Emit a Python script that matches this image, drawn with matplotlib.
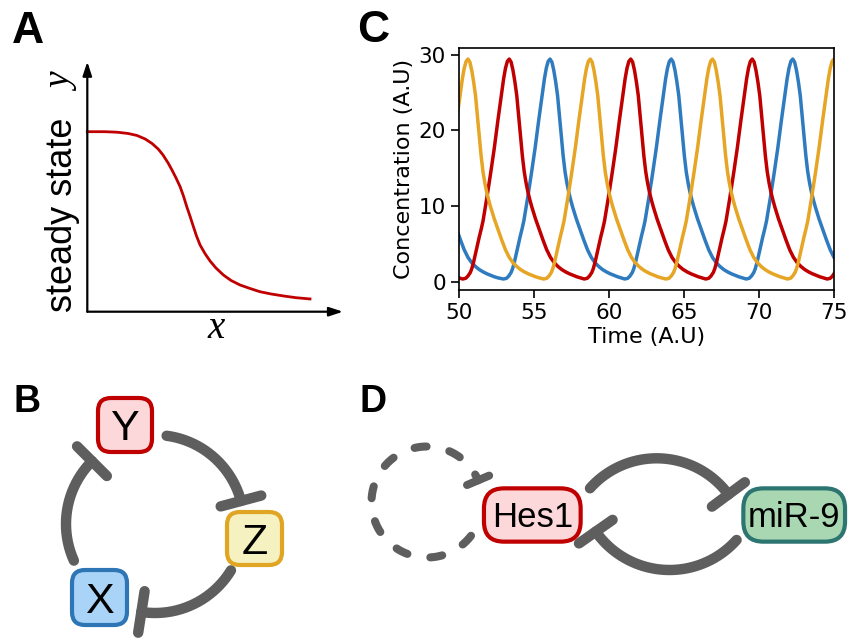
import numpy as np
import matplotlib
matplotlib.use("Agg")
import matplotlib.pyplot as plt
from matplotlib.patches import FancyBboxPatch

W, H = 851, 639
GRAY = "#5e5e5e"
RED = "#c00000"
BLUE = "#2f7bbf"
YELLOW = "#e6a524"

# panel A: steady-state response (axis units)
A_X = [0.0, 0.69, 1.16, 1.59, 1.94, 2.26, 2.53, 2.77, 2.96, 3.16, 3.31, 3.47, 3.63,
       3.76, 3.89, 4.02, 4.15, 4.27, 4.41, 4.60, 4.80, 5.03, 5.32, 5.62, 5.97, 6.36,
       6.75, 7.18, 7.67, 8.16, 8.71]
A_Y = [0.720, 0.720, 0.718, 0.713, 0.705, 0.691, 0.673, 0.651, 0.627, 0.595, 0.567,
       0.535, 0.500, 0.463, 0.420, 0.381, 0.340, 0.303, 0.267, 0.233, 0.203, 0.175,
       0.147, 0.125, 0.107, 0.093, 0.080, 0.071, 0.063, 0.056, 0.051]

# panel C: one oscillation cycle (time relative to the peak) and the peak times
CYCLE_T = [-3.1, -2.9, -2.75, -2.6, -2.5, -2.375, -2.25, -2.125, -2.0, -1.875, -1.75,
           -1.5, -1.25, -1.0, -0.75, -0.5, -0.375, -0.25, -0.125, 0.0, 0.125, 0.25,
           0.375, 0.5, 0.625, 0.75, 0.875, 1.0, 1.125, 1.25, 1.375, 1.5, 1.75, 2.0,
           2.25, 2.5, 2.75, 3.0, 3.25, 3.5, 3.75, 4.0, 4.25, 4.5, 4.75, 5.03]
CYCLE_V = [0.35, 0.45, 0.75, 1.2, 1.7, 2.6, 3.7, 4.8, 5.9, 6.9, 8.0,
           11.0, 14.2, 17.6, 21.4, 25.0, 26.8, 28.2, 29.1, 29.4, 29.0, 27.9,
           26.4, 24.6, 21.9, 19.2, 16.6, 14.5, 13.0, 11.8, 10.8, 9.9, 8.3, 6.9,
           5.5, 4.2, 3.2, 2.5, 2.0, 1.6, 1.3, 1.05, 0.85, 0.65, 0.5, 0.35]
PEAKS_BLUE = [47.85, 56.07, 64.15, 72.25]
PEAKS_RED = [45.25, 53.35, 61.45, 69.55, 77.65]
PEAKS_YELLOW = [50.6, 58.75, 66.9, 75.0]
C_XTICKS = [50, 55, 60, 65, 70, 75]
C_YTICKS = [0, 10, 20, 30]


def series(peaks):
    t, v = [], []
    for p in peaks:
        t += [p + c for c in CYCLE_T[:-1]]
        v += CYCLE_V[:-1]
    return t, v


def arc(ax, cx, cy, r, a0, a1, lw=7.5, bar=None, **kw):
    a = np.radians(np.linspace(a0, a1, 160))
    ax.plot(cx + r * np.cos(a), cy - r * np.sin(a), color=GRAY, lw=lw,
            solid_capstyle="round", dash_capstyle="round", **kw)
    if bar is not None:
        e = np.radians(a1)
        bx, by = cx + r * np.cos(e), cy - r * np.sin(e)
        dx, dy = np.cos(e), -np.sin(e)
        ax.plot([bx - bar * dx, bx + bar * dx], [by - bar * dy, by + bar * dy],
                color=GRAY, lw=lw, solid_capstyle="round")


def node(ax, cx, cy, w, h, text, fc, ec, size, rad=13):
    ax.add_patch(FancyBboxPatch((cx - w / 2, cy - h / 2), w, h,
                                boxstyle=f"round,pad=0,rounding_size={rad}",
                                fc=fc, ec=ec, lw=3, zorder=3))
    em = size / 0.72
    ax.text(cx, cy + 0.358 * em, text, ha="center", va="baseline", fontsize=size,
            family="Liberation Sans", zorder=4)


fig = plt.figure(figsize=(W / 100, H / 100), dpi=100)

# overlay in pixel coordinates for labels and diagrams
ov = fig.add_axes([0, 0, 1, 1])
ov.set_xlim(0, W)
ov.set_ylim(H, 0)
ov.axis("off")

# ---- panel A
axa = fig.add_axes([87.3 / W, 1 - 311.7 / H, 255.7 / W, 250 / H])
axa.set_xlim(0, 10)
axa.set_ylim(0, 1)
axa.axis("off")
arrow = dict(arrowstyle="-|>,head_length=0.55,head_width=0.18", color="k", lw=1.6,
             mutation_scale=15, shrinkA=0, shrinkB=0)
axa.annotate("", xy=(0, 1), xytext=(0, 0), arrowprops=arrow, annotation_clip=False)
axa.annotate("", xy=(10, 0), xytext=(0, 0), arrowprops=arrow, annotation_clip=False)
axa.plot(A_X, A_Y, color=RED, lw=2, clip_on=False)
ov.text(72, 311.7, "steady state", rotation=90, rotation_mode="anchor", ha="left",
        va="baseline", fontsize=26, family="Liberation Sans")
ov.text(72, 91, "y", rotation=90, rotation_mode="anchor", ha="left", va="baseline",
        fontsize=27, family="Liberation Serif", style="italic")
ov.text(216, 338, "x", ha="center", va="baseline", fontsize=28,
        family="Liberation Serif", style="italic")

# ---- panel C
axc = fig.add_axes([459 / W, 1 - 290 / H, 375 / W, 242.3 / H])
for peaks, col in [(PEAKS_BLUE, BLUE), (PEAKS_RED, RED), (PEAKS_YELLOW, YELLOW)]:
    t, v = series(peaks)
    axc.plot(t, v, color=col, lw=2.5)
axc.set_xlim(50, 75)
axc.set_ylim(-1.1, 30.9)
axc.set_xticks(C_XTICKS)
axc.set_yticks(C_YTICKS)
axc.tick_params(labelsize=15.5, length=6, width=1.2)
axc.set_xlabel("Time (A.U)", fontsize=16, labelpad=3)
axc.set_ylabel("Concentration (A.U)", fontsize=16, labelpad=3)
for s in axc.spines.values():
    s.set_linewidth(1.2)

# ---- panel B: repressilator ring
arc(ov, 155, 524, 89, 82.5, 15, bar=21)
arc(ov, 155, 524, 89, -31.4, -98.8, bar=21)
arc(ov, 155, 524, 89, 204.3, 135.1, bar=21)
node(ov, 125, 425, 54, 54, "Y", "#fdd8da", RED, 31)
node(ov, 254.5, 538.5, 55, 53, "Z", "#f5f1c0", "#e0a522", 31)
node(ov, 99.5, 597.5, 55, 55, "X", "#a9d3f7", "#2e75b6", 31)

# ---- panel D: Hes1 / miR-9
arc(ov, 427, 502, 55.5, -37.5, -337, lw=5.8, bar=12, linestyle=(0, (1.5, 2.9)))
arc(ov, 656.7, 547.5, 89.2, 138.4, 36.5, bar=20.5)
arc(ov, 669.5, 480, 90, -41.8, -145, bar=20.5)
node(ov, 532.3, 515, 96.7, 53.3, "Hes1", "#fdd8da", RED, 25, rad=20)
node(ov, 794.2, 515, 101.7, 53.3, "miR-9", "#a9d7b1", "#2c7571", 25, rad=20)

# panel letters
for x, y, s, fs in [(12, 43.3, "A", 32), (357, 42, "C", 32), (13, 412, "B", 27), (360, 412, "D", 27)]:
    ov.text(x, y, s, ha="left", va="baseline", fontsize=fs, weight="bold",
            family="Liberation Sans")

fig.savefig("out.png", dpi=100)
